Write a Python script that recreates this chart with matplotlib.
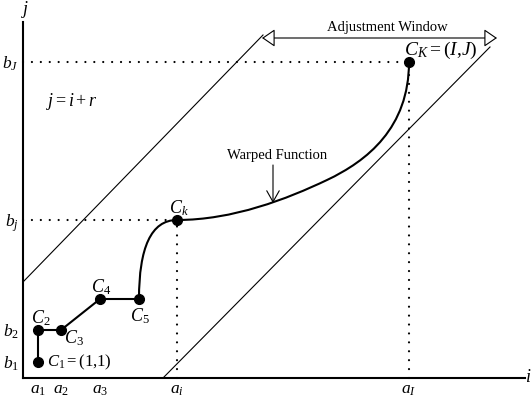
import matplotlib.pyplot as plt
from matplotlib.path import Path
from matplotlib.patches import PathPatch

plt.rcParams['font.family'] = 'Liberation Serif'
plt.rcParams['mathtext.fontset'] = 'custom'
plt.rcParams['mathtext.rm'] = 'Liberation Serif'
plt.rcParams['mathtext.it'] = 'Liberation Serif:italic'

# warping path points C1..C5 (joined by straight segments)
path_x = [15, 15, 38, 77, 116]
path_y = [16, 48, 48, 79, 79]
path_labels = ['$C_1=(1{,}1)$', '$C_2$', '$C_3$', '$C_4$', '$C_5$']

# C_k and C_K
ck = (154, 158)
cK = (386, 316)

# curved part (bezier control points)
curve1 = [(116, 79), (116, 130), (128, 158), (154, 158)]
curve2 = [(154, 158), (210, 158), (264, 179), (304, 198),
          (344, 217), (386, 250), (386, 316)]

# adjustment window lines
upper_line = [(0, 96), (240, 343)]
lower_line = [(140, 0), (467, 331)]
window_y = 340
window_x = [239, 474]

a_ticks = [15, 38, 77, 154, 386]
a_labels = ['$a_1$', '$a_2$', '$a_3$', '$a_i$', '$a_I$']
b_ticks = [16, 48, 158, 316]
b_labels = ['$b_1$', '$b_2$', '$b_j$', '$b_J$']

fig = plt.figure(figsize=(5.31, 3.99), dpi=100)
ax = fig.add_axes([0, 0, 1, 1])
ax.set_xlim(-23, 508)
ax.set_ylim(-21, 378)

for s in ['top', 'right']:
    ax.spines[s].set_visible(False)
ax.spines['left'].set_position(('data', 0))
ax.spines['bottom'].set_position(('data', 0))
ax.spines['left'].set_bounds(0, 356)
ax.spines['bottom'].set_bounds(0, 502)
ax.spines['left'].set_linewidth(1.5)
ax.spines['bottom'].set_linewidth(1.5)

ax.set_xticks(a_ticks, a_labels, fontsize=12.5)
ax.set_yticks(b_ticks, b_labels, fontsize=12.5)
ax.tick_params(length=0, pad=3)

# dotted guides
dot = dict(color='black', lw=1.6, linestyle=(0, (0.01, 4.0)),
           dash_capstyle='round')
ax.plot([0, ck[0]], [ck[1], ck[1]], **dot)
ax.plot([ck[0], ck[0]], [0, ck[1]], **dot)
ax.plot([0, cK[0]], [cK[1], cK[1]], **dot)
ax.plot([cK[0], cK[0]], [0, cK[1]], **dot)

# window boundaries
ax.plot(*zip(*upper_line), color='black', lw=0.8)
ax.plot(*zip(*lower_line), color='black', lw=0.8)

# warping path
ax.plot(path_x, path_y, color='black', lw=1.5)
p1 = Path(curve1, [Path.MOVETO] + [Path.CURVE4] * 3)
p2 = Path(curve2, [Path.MOVETO] + [Path.CURVE4] * 6)
ax.add_patch(PathPatch(p1, fc='none', ec='black', lw=1.5))
ax.add_patch(PathPatch(p2, fc='none', ec='black', lw=1.5))
ax.plot(path_x + [ck[0], cK[0]], path_y + [ck[1], cK[1]], 'o',
        color='black', ms=7, zorder=5)

# labels of points
ax.text(24, 16, path_labels[0], fontsize=12, ha='left', va='center')
ax.text(18, 60, path_labels[1], fontsize=13, ha='center', va='center')
ax.text(51, 40, path_labels[2], fontsize=13, ha='center', va='center')
ax.text(78, 91, path_labels[3], fontsize=13, ha='center', va='center')
ax.text(117, 62, path_labels[4], fontsize=13, ha='center', va='center')
ax.text(156, 170, '$C_k$', fontsize=13, ha='center', va='center')
ax.text(418, 328, '$C_K=(I{,}J)$', fontsize=14, ha='center', va='center')

# window arrow
ax.annotate('', xy=(window_x[0], window_y), xytext=(window_x[1], window_y),
            arrowprops=dict(arrowstyle='<|-|>,head_length=0.8,head_width=0.55',
                            fc='white', ec='black', lw=0.8,
                            shrinkA=0, shrinkB=0))
ax.text(364, 350, 'Adjustment Window', fontsize=10.5, ha='center', va='center')

# warped function arrow
ax.annotate('', xy=(250, 175), xytext=(250, 213),
            arrowprops=dict(arrowstyle='->,head_length=0.8,head_width=0.45',
                            color='black', lw=0.8, shrinkA=0, shrinkB=0))
ax.text(254, 222, 'Warped Function', fontsize=10.5, ha='center', va='center')

ax.text(49, 276, '$j = i + r$', fontsize=13, ha='center', va='center')
ax.text(2, 368, '$j$', fontsize=13, ha='center', va='center')
ax.text(505, 0, '$i$', fontsize=13, ha='center', va='center')

fig.savefig('out.png', dpi=100)
